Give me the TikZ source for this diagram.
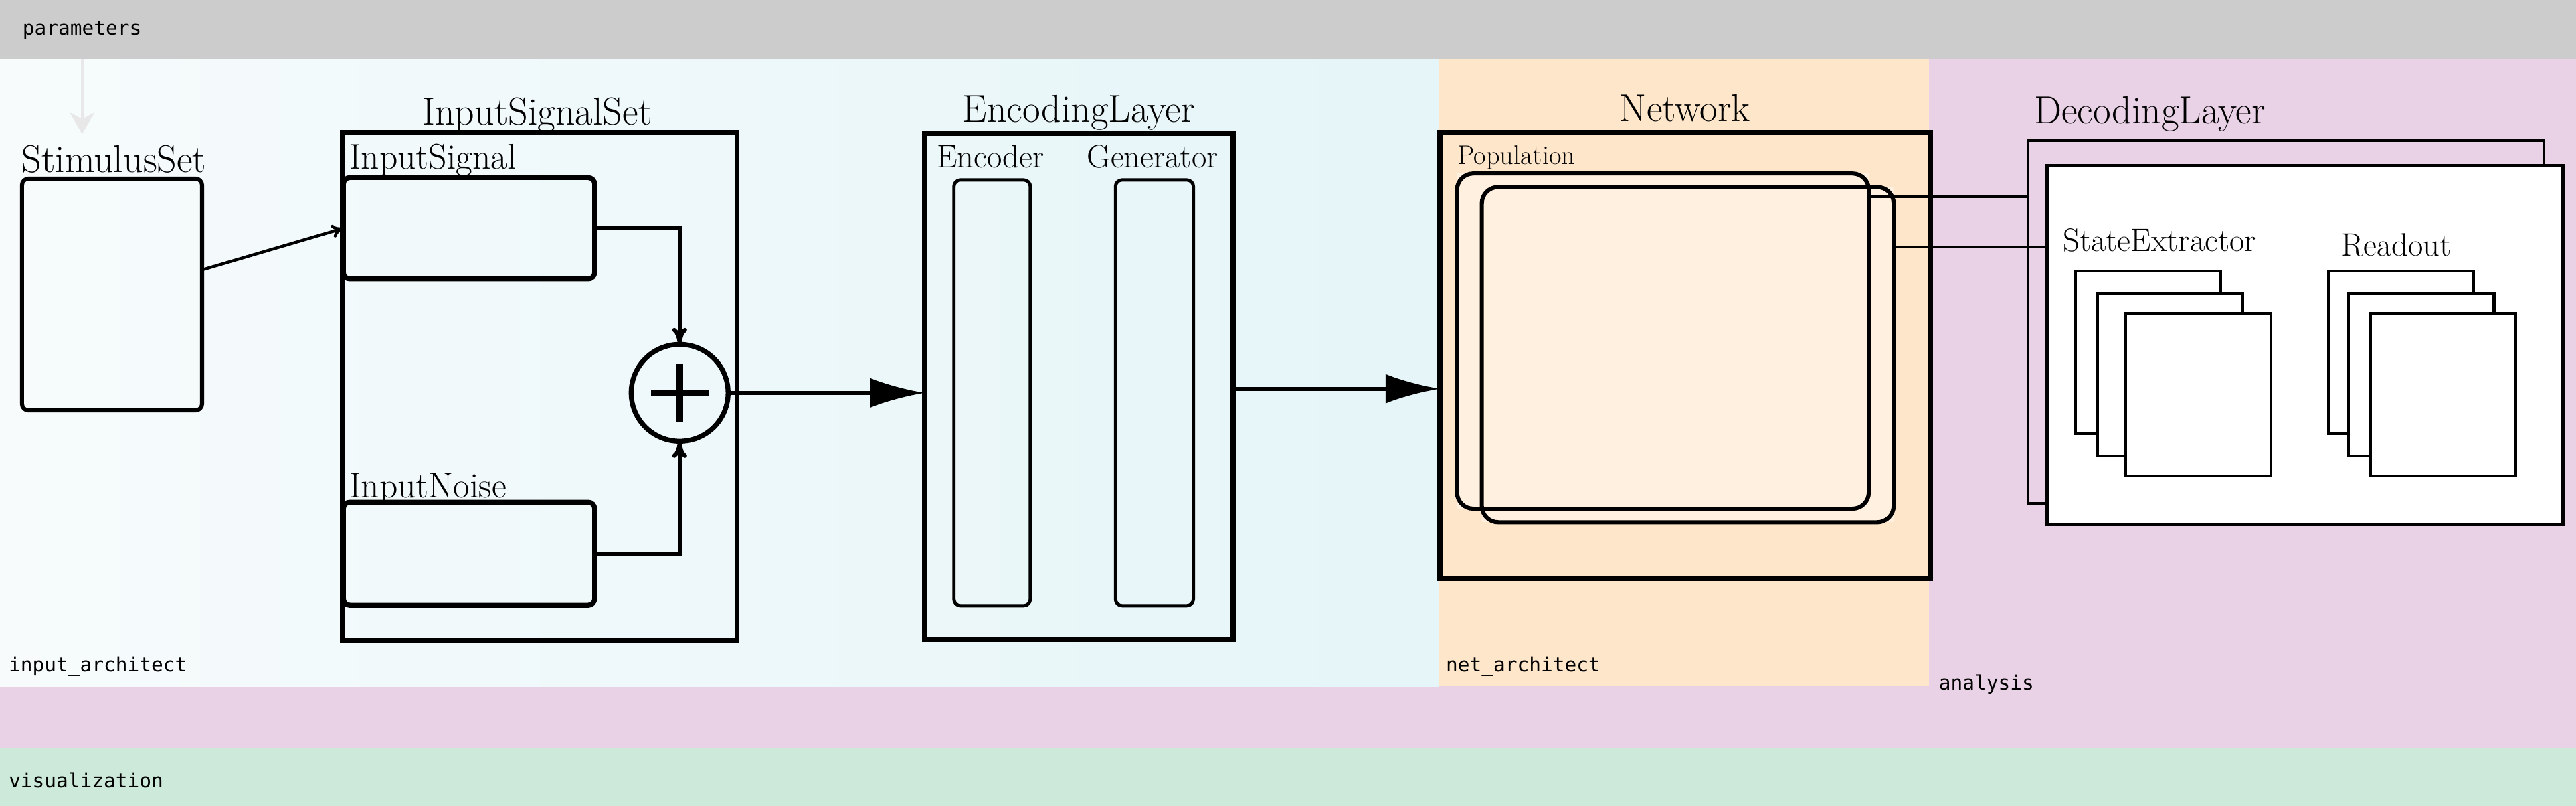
\documentclass[tikz,border=0pt]{standalone}
\usepackage{fontspec}
\newfontfamily\bandfont{DejaVu Sans Mono}
\usetikzlibrary{arrows.meta,calc}
\definecolor{paramgray}{RGB}{204,204,204}
\definecolor{anpink}{RGB}{233,209,230}
\definecolor{netorange}{RGB}{254,230,203}
\definecolor{popfill}{RGB}{255,240,224}
\definecolor{inleft}{RGB}{247,251,252}
\definecolor{inright}{RGB}{229,245,248}
\definecolor{visgreen}{RGB}{204,233,218}
\definecolor{pararrow}{RGB}{232,232,232}
\begin{document}
\begin{tikzpicture}[x=1pt,y=-1pt,
  band/.style={inner sep=0pt, outer sep=0pt, anchor=north west, draw=none},
  bandlabel/.style={font=\bandfont\fontsize{12}{14}\selectfont, anchor=base west, inner sep=0pt},
  biglabel/.style={font=\fontsize{23.6}{27}\selectfont, inner sep=0pt},
  midlabel/.style={font=\fontsize{21.8}{26}\selectfont, inner sep=0pt, anchor=base west},
  smalllabel/.style={font=\fontsize{19.8}{24}\selectfont, inner sep=0pt, anchor=base west},
  poplabel/.style={font=\fontsize{16.4}{19}\selectfont, inner sep=0pt, anchor=base west},
  container/.style={draw, line width=3pt, inner sep=0pt, outer sep=0pt},
  roundbox/.style={draw, rounded corners=4pt, inner sep=0pt, outer sep=0pt},
  popbox/.style={fill=popfill, inner sep=0pt, outer sep=0pt, minimum width=250.7pt, minimum height=204pt},
  popborder/.style={draw, line width=2.5pt, rounded corners=10pt},
  decbox/.style={draw, line width=1.8pt, inner sep=0pt, outer sep=0pt, minimum width=314pt},
  stackbox/.style={draw, line width=1.8pt, fill=white, inner sep=0pt, outer sep=0pt, minimum width=88.5pt, minimum height=99pt},
  bigarrow/.style={line width=2.5pt, -{Latex[length=33pt,width=18pt]}},
  sumarrow/.style={line width=2.5pt, -{To[length=10pt,width=9pt]}},
  thinarrow/.style={line width=1.8pt, -{To[length=7pt,width=8pt]}},
  tapline/.style={line width=1.3pt}
]
\useasboundingbox (0,0) rectangle (1568,490.3);
% ---------- bands ----------
\node[band, fill=anpink, minimum width=1568pt, minimum height=419pt] (analysis) at (0,36) {};
\node[band, fill=paramgray, minimum width=1568pt, minimum height=36pt] (params) at (0,0) {};
\node[band, fill=visgreen, minimum width=1568pt, minimum height=35.3pt] (vis) at (0,455) {};
\shade[left color=inleft, right color=inright] (0,36) rectangle (876,417.5);
\node[band, fill=netorange, minimum width=298pt, minimum height=381.5pt] (netarch) at (876,36) {};
\node[bandlabel] (paramstxt) at (13.6,21.5) {parameters};
\node[bandlabel] (inputtxt) at (5.2,408.6) {input\_architect};
\node[bandlabel] (nettxt) at (880,408.6) {net\_architect};
\node[bandlabel] (antxt) at (1180,419.5) {analysis};
\node[bandlabel] (vistxt) at (5.2,479.2) {visualization};
% parameters arrow
\coordinate (parEnd) at (50,81.5);
\draw[pararrow, line width=1.5pt, -{Stealth[length=13pt,width=15pt,inset=4pt]}] (params.south -| parEnd) -- (parEnd);
% ---------- StimulusSet ----------
\node[biglabel, anchor=base west] (stimlbl) at (13,105) {StimulusSet};
\node[roundbox, line width=2.5pt, minimum width=109.6pt, minimum height=141pt] (stim) at (68.2,179.2) {};
% ---------- InputSignalSet ----------
\node[biglabel, anchor=base] (isslbl) at (327,76) {InputSignalSet};
\node[container, minimum width=240pt, minimum height=309pt] (iss) at (328.5,235.2) {};
\node[midlabel] (siglbl) at (212.5,103) {InputSignal};
\node[roundbox, line width=3pt, minimum width=153pt, minimum height=61.7pt] (sig) at (285.5,138.9) {};
\node[midlabel] (noiselbl) at (212.5,302.7) {InputNoise};
\node[roundbox, line width=3pt, minimum width=153pt, minimum height=62.7pt] (noise) at (285.5,336.9) {};
\node[circle, draw, line width=3pt, minimum size=59pt, inner sep=0pt, outer sep=0pt] (plus) at (413.7,239) {};
\draw[line width=4.3pt] ($(plus.center)+(-17.5,0)$) -- ($(plus.center)+(17.5,0)$);
\draw[line width=4.3pt] ($(plus.center)+(0,-18)$) -- ($(plus.center)+(0,18)$);
\draw[thinarrow] ([yshift=15pt]stim.east) -- (sig.west);
\draw[sumarrow] (sig.east) -- (sig.east -| plus.north) -- (plus.north);
\draw[sumarrow] (noise.east) -- (noise.east -| plus.south) -- (plus.south);
% ---------- EncodingLayer ----------
\node[biglabel, anchor=base] (enclbl) at (656.7,74.5) {EncodingLayer};
\node[container, minimum width=187.8pt, minimum height=308pt] (enc) at (656.7,235) {};
\node[smalllabel] (encoderlbl) at (570,102) {Encoder};
\node[roundbox, line width=2pt, minimum width=46.5pt, minimum height=259pt] (encoder) at (603.9,239) {};
\node[smalllabel] (genlbl) at (661.5,102) {Generator};
\node[roundbox, line width=2pt, minimum width=47.4pt, minimum height=259pt] (generator) at (702.7,239) {};
\draw[bigarrow] (plus.east) -- (plus.east -| enc.west);
% ---------- Network ----------
\node[biglabel, anchor=base] (netlbl) at (1025.7,74) {Network};
\node[container, line width=3.3pt, minimum width=298.7pt, minimum height=271.2pt] (net) at (1025.7,216.2) {};
\draw[bigarrow] ([yshift=-1.5pt]enc.east) -- ([yshift=-1.5pt]enc.east -| net.west);
\node[poplabel] (poplbl) at (887,99.8) {Population};
\node[popbox] (pop1) at (1012.2,207.55) {};
\node[popbox] (pop2) at (1027.3,215.8) {};
\draw[popborder] (pop1.north west) rectangle (pop1.south east);
\draw[popborder] (pop2.north west) rectangle (pop2.south east);
% ---------- DecodingLayer ----------
\node[biglabel, anchor=base west] (declbl) at (1238,75) {DecodingLayer};
\node[decbox, minimum height=221pt] (dback) at (1391.5,196) {};
\node[decbox, fill=white, minimum height=218.5pt] (dfront) at (1403,209.75) {};
\draw[tapline] ([yshift=-14.2pt]pop1.north east) -- ([yshift=-14.2pt]pop1.north east -| dback.west);
\draw[tapline] ([yshift=-36.4pt]pop2.north east) -- ([yshift=-36.4pt]pop2.north east -| dfront.west);
\node[smalllabel] (selbl) at (1255.5,153) {StateExtractor};
\node[stackbox] (se1) at (1307.4,214.5) {};
\node[stackbox] (se2) at (1320.9,227.9) {};
\node[stackbox] (se3) at (1338,240.15) {};
\node[smalllabel] (rolbl) at (1425,155.6) {Readout};
\node[stackbox] (ro1) at (1461.5,214.5) {};
\node[stackbox] (ro2) at (1473.8,227.9) {};
\node[stackbox] (ro3) at (1487.15,240.15) {};
\end{tikzpicture}
\end{document}
